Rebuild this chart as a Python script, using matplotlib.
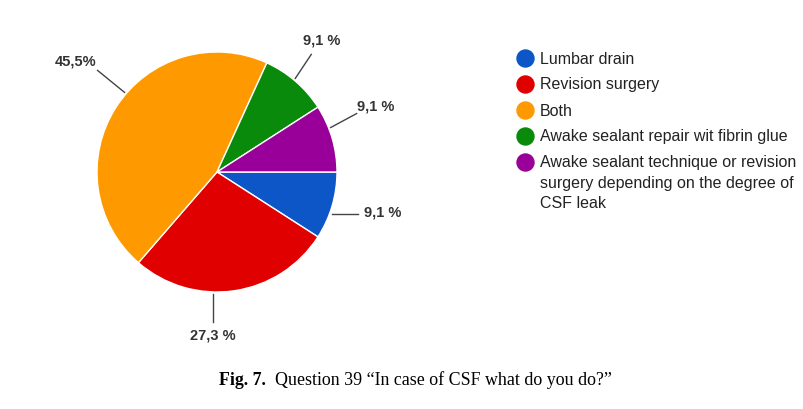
import numpy as np
import matplotlib.pyplot as plt

# Question 39: "In case of CSF what do you do?"
categories = ["Lumbar drain", "Revision surgery", "Both",
              "Awake sealant repair wit fibrin glue",
              "Awake sealant technique or revision\nsurgery depending on the degree of\nCSF leak"]
counts = [1, 3, 5, 1, 1]
labels = ["9,1 %", "27,3 %", "45,5%", "9,1 %", "9,1 %"]
colors = ["#0c56c8", "#e00000", "#ff9900", "#0a8a0a", "#990099"]

fig = plt.figure(figsize=(8.04, 4.10), dpi=100)
ax = fig.add_axes([0, 0, 1, 1])

cx, cy, r = 217, 173, 120
wedges, _ = ax.pie(counts, colors=colors, startangle=0, counterclock=True,
                   center=(cx, cy), radius=r, frame=True,
                   wedgeprops=dict(edgecolor="white", linewidth=1))
ax.set_xlim(0, 804)
ax.set_ylim(410, 0)  # pixel-like coords, y down
ax.set_aspect("equal")
ax.axis("off")

# leader lines: angle tweak, line end offset, text offset (pixels)
tweak = [3.6, 10, 8, -1, -5]
line_off = [(26, 0), (0, 28), (-27, -22), (16, -24), (26, -14)]
text_off = [(51, -2), (0, 41), (-49, -32), (26, -39), (45, -22)]
for w, lab, dt, lo, to in zip(wedges, labels, tweak, line_off, text_off):
    th = np.deg2rad((w.theta1 + w.theta2) / 2 + dt)
    x0 = cx + (r + 2) * np.cos(th)
    y0 = cy + (r + 2) * np.sin(th)
    ax.plot([x0, x0 + lo[0]], [y0, y0 + lo[1]], color="#444444", lw=1)
    ax.text(x0 + to[0], y0 + to[1], lab, ha="center", va="center",
            fontsize=10.5, fontweight="bold", color="#333333",
            family="Liberation Sans")

# legend
ly = [59, 85, 111, 137, 163]
for y, c, name in zip(ly, colors, categories):
    ax.scatter([525], [y], s=150, color=c, zorder=3)
    ax.text(540, y - 7.5, name, ha="left", va="top", fontsize=11.5,
            color="#222222", family="Liberation Sans", linespacing=1.45)

# caption
fig.text(219 / 804, 1 - 385 / 410, "Fig. 7.", ha="left", va="baseline",
         fontsize=12.9, fontweight="bold", family="Liberation Serif")
fig.text(275 / 804, 1 - 385 / 410, "Question 39 \u201cIn case of CSF what do you do?\u201d",
         ha="left", va="baseline", fontsize=12.9, family="Liberation Serif")

fig.savefig("out.png", dpi=100)
